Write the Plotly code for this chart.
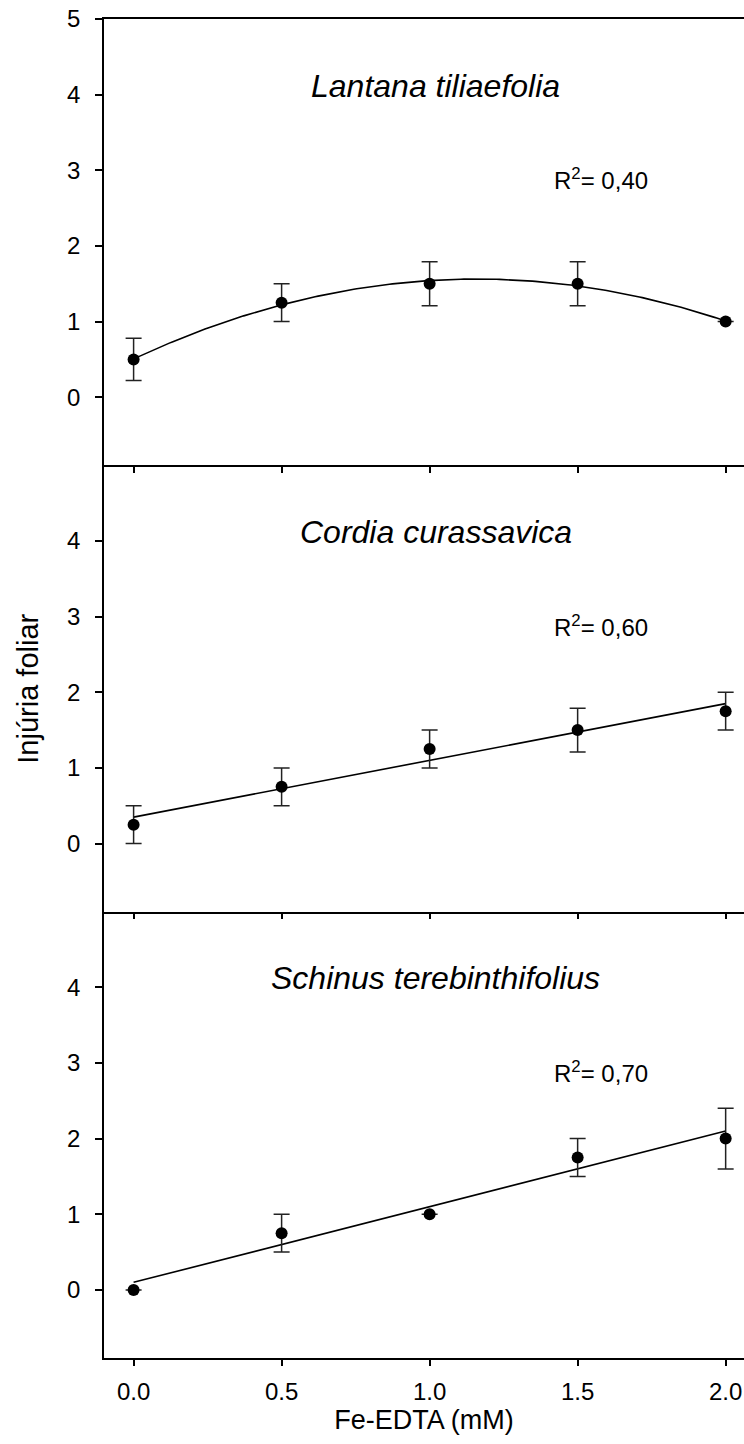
import numpy as np
import plotly.graph_objects as go
from plotly.subplots import make_subplots

# ---------------- data ----------------
dose = [0.0, 0.5, 1.0, 1.5, 2.0]
species = ["Lantana tiliaefolia", "Cordia curassavica", "Schinus terebinthifolius"]
lantana_mean = [0.5, 1.25, 1.5, 1.5, 1.0]
lantana_err = [0.28, 0.25, 0.29, 0.29, 0.0]
cordia_mean = [0.25, 0.75, 1.25, 1.5, 1.75]
cordia_err = [0.25, 0.25, 0.25, 0.29, 0.25]
schinus_mean = [0.0, 0.75, 1.0, 1.75, 2.0]
schinus_err = [0.0, 0.25, 0.0, 0.25, 0.4]
fit_degree = [2, 1, 1]
r2_labels = ["0,40", "0,60", "0,70"]
x_tickvals = [0.0, 0.5, 1.0, 1.5, 2.0]
x_ticktext = ["0.0", "0.5", "1.0", "1.5", "2.0"]
y_tickvals_top = [0, 1, 2, 3, 4, 5]
y_tickvals = [0, 1, 2, 3, 4]

means = [lantana_mean, cordia_mean, schinus_mean]
errs = [lantana_err, cordia_err, schinus_err]

FONT = "Liberation Sans, Arial, sans-serif"

fig = make_subplots(rows=3, cols=1, shared_xaxes=True, vertical_spacing=0)

for i in range(3):
    row = i + 1
    xr = "x" if row == 1 else "x%d" % row
    yr = "y" if row == 1 else "y%d" % row
    # regression curve fitted to the means
    coef = np.polyfit(dose, means[i], fit_degree[i])
    xf = np.linspace(dose[0], dose[-1], 200)
    yf = np.polyval(coef, xf)
    fig.add_trace(go.Scatter(x=xf, y=yf, mode="lines",
                             line=dict(color="black", width=1.6),
                             showlegend=False, hoverinfo="skip"), row=row, col=1)
    fig.add_trace(go.Scatter(x=dose, y=means[i], mode="markers",
                             marker=dict(color="black", size=12),
                             error_y=dict(type="data", array=errs[i], visible=True,
                                          color="#222222", thickness=1.5, width=8),
                             cliponaxis=False,
                             showlegend=False), row=row, col=1)
    # species title
    fig.add_annotation(x=1.02, y=4.12, text="<i>%s</i>" % species[i], showarrow=False,
                       font=dict(family=FONT, size=32, color="black"),
                       xref=xr, yref=yr)
    fig.add_annotation(x=1.415, y=2.88, text="R<sup>2</sup>= %s" % r2_labels[i],
                       showarrow=False, xanchor="left",
                       font=dict(family=FONT, size=24, color="black"),
                       xref=xr, yref=yr)

    fig.update_yaxes(range=[-0.9, 5.0], automargin=False,
                     tickvals=y_tickvals_top if row == 1 else y_tickvals,
                     ticks="outside", ticklen=7, tickwidth=1.5, tickcolor="black",
                     showline=True, linecolor="black", linewidth=1.6,
                     showgrid=False, zeroline=False,
                     ticklabelstandoff=10, ticklabeloverflow="allow",
                     tickfont=dict(family=FONT, size=24, color="black"),
                     row=row, col=1)
    fig.update_xaxes(range=[-0.1, 2.062], automargin=False,
                     tickvals=x_tickvals, ticktext=x_ticktext,
                     ticks="outside", ticklen=6, tickwidth=1.5, tickcolor="black",
                     showline=True, linecolor="black", linewidth=1.6,
                     showgrid=False, zeroline=False,
                     showticklabels=(row == 3),
                     mirror=True if row == 1 else False,
                     ticklabelstandoff=5, ticklabeloverflow="allow",
                     tickfont=dict(family=FONT, size=24, color="black"),
                     row=row, col=1)

fig.update_xaxes(title=dict(text="Fe-EDTA (mM)", font=dict(family=FONT, size=27, color="black"),
                            standoff=5), row=3, col=1)

fig.add_annotation(x=-0.12, y=0.5, xref="paper", yref="paper", text="Injúria foliar",
                   showarrow=False, textangle=-90, xanchor="center",
                   font=dict(family=FONT, size=29, color="black"))

fig.update_layout(width=744, height=1444, autosize=False,
                  margin=dict(l=104, r=0, t=19, b=86),
                  paper_bgcolor="white", plot_bgcolor="white",
                  font=dict(family=FONT, color="black"))

fig.write_html("out.html",
               config={"responsive": False, "displayModeBar": False},
               post_script="document.body.style.margin='0px';"
                           "document.documentElement.style.overflow='hidden';"
                           "document.body.style.overflow='hidden';")
